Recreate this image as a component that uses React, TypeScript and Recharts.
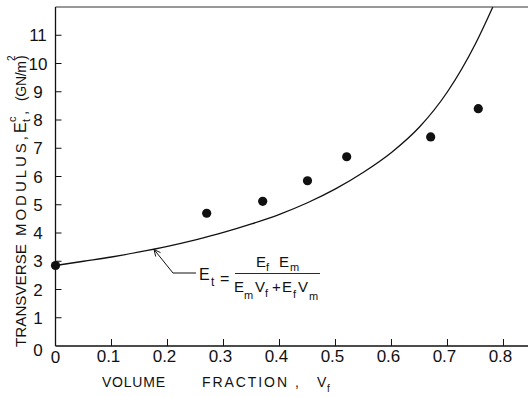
import React from "react";
import { ComposedChart, Line, Scatter, XAxis, YAxis } from "recharts";

// theoretical curve E_t = Ef Em / (Em Vf + Ef Vm)
const curveVf = [0, 0.05, 0.1, 0.15, 0.2, 0.25, 0.3, 0.35, 0.4, 0.45, 0.5, 0.55, 0.6, 0.65, 0.7, 0.75, 0.781];
const curveEt = [2.85, 3.0, 3.15, 3.33, 3.53, 3.76, 4.02, 4.32, 4.66, 5.07, 5.56, 6.15, 6.85, 7.75, 9.0, 10.7, 12.0];

// measured points
const pointVf = [0, 0.27, 0.37, 0.45, 0.52, 0.67, 0.755];
const pointEt = [2.85, 4.7, 5.12, 5.85, 6.7, 7.4, 8.4];

const xTicks = [0, 0.1, 0.2, 0.3, 0.4, 0.5, 0.6, 0.7, 0.8];
const yTicks = [0, 1, 2, 3, 4, 5, 6, 7, 8, 9, 10, 11];

const curve = curveVf.map((vf, i) => ({ vf, et: curveEt[i] }));
const points = pointVf.map((vf, i) => ({ vf, et: pointEt[i] }));

const X_MAX = 0.8438;
const FONT = "'Liberation Sans', Arial, sans-serif";
const INK = "#111";

const BottomTick = (props: any) => {
  const { x, y, payload } = props;
  const v = payload.value as number;
  return (
    <g>
      {v !== 0 && <line x1={x} x2={x} y1={y} y2={y - 7} stroke={INK} strokeWidth={1} />}
      <text
        x={v === 0 ? x : x - 3}
        y={v === 0 ? y + 17 : y + 16}
        textAnchor="middle"
        fontFamily={FONT}
        fontSize={17}
        fill={INK}
      >
        {v === 0 ? "0" : v.toFixed(1)}
      </text>
    </g>
  );
};

const TopTick = (props: any) => {
  const { x, y, payload } = props;
  if (payload.value === 0) return <g />;
  return <line x1={x} x2={x} y1={y} y2={y + 7} stroke={INK} strokeWidth={1} />;
};

const LeftTick = (props: any) => {
  const { x, y, payload } = props;
  const v = payload.value as number;
  return (
    <g>
      {v !== 0 && <line x1={x} x2={x + 6} y1={y} y2={y} stroke={INK} strokeWidth={1} />}
      <text
        x={38}
        y={v === 0 ? y + 10 : y + 6}
        textAnchor="middle"
        fontFamily={FONT}
        fontSize={17}
        fill={INK}
      >
        {v}
      </text>
    </g>
  );
};

const RightTick = (props: any) => {
  const { x, y, payload } = props;
  if (payload.value === 0) return <g />;
  return <line x1={x - 7} x2={x + 1} y1={y} y2={y} stroke={INK} strokeWidth={1.2} />;
};

const Dot = (props: any) => {
  const { cx, cy } = props;
  return <circle cx={cx} cy={cy} r={4.6} fill={INK} />;
};

const txt = { fontFamily: FONT, fill: INK } as const;

export default function App() {
  return (
    <div style={{ position: "absolute", left: 0, top: 0, width: 529, height: 397, background: "#fff" }}>
      <ComposedChart
        width={529}
        height={397}
        margin={{ top: 6, right: 0, bottom: 50, left: 54.5 }}
      >
        <XAxis
          xAxisId="b"
          dataKey="vf"
          type="number"
          domain={[0, X_MAX]}
          ticks={xTicks}
          interval={0}
          height={1}
          tickSize={0}
          tickMargin={0}
          tickLine={false}
          axisLine={{ stroke: INK, strokeWidth: 1.3 }}
          tick={BottomTick}
        />
        <XAxis
          xAxisId="t"
          orientation="top"
          dataKey="vf"
          type="number"
          domain={[0, X_MAX]}
          ticks={xTicks}
          interval={0}
          height={1}
          tickSize={0}
          tickMargin={0}
          tickLine={false}
          axisLine={{ stroke: "#333", strokeWidth: 1.1 }}
          tick={TopTick}
        />
        <YAxis
          yAxisId="l"
          type="number"
          domain={[0, 12]}
          ticks={yTicks}
          interval={0}
          width={1}
          tickSize={0}
          tickMargin={0}
          tickLine={false}
          axisLine={{ stroke: INK, strokeWidth: 1.3 }}
          tick={LeftTick}
        />
        <YAxis
          yAxisId="r"
          orientation="right"
          type="number"
          domain={[0, 12]}
          ticks={yTicks}
          interval={0}
          width={1}
          tickSize={0}
          tickMargin={0}
          tickLine={false}
          axisLine={false}
          tick={RightTick}
        />
        <Line
          xAxisId="b"
          yAxisId="l"
          data={curve}
          dataKey="et"
          type="monotone"
          stroke={INK}
          strokeWidth={1.3}
          dot={false}
          activeDot={false}
          isAnimationActive={false}
        />
        <Scatter
          xAxisId="b"
          yAxisId="l"
          data={points}
          dataKey="et"
          shape={Dot}
          isAnimationActive={false}
        />
      </ComposedChart>

      <svg
        width={529}
        height={397}
        style={{ position: "absolute", left: 0, top: 0, pointerEvents: "none" }}
      >
        {/* y axis title */}
        <text transform="rotate(-90)" fontSize={15} {...txt}>
          <tspan x={-347} y={26} textLength={103} lengthAdjust="spacingAndGlyphs">TRANSVERSE</tspan>
          <tspan x={-236} y={26} textLength={100} lengthAdjust="spacing">MODULUS,</tspan>
          <tspan x={-133} y={26} fontSize={16}>E</tspan>
          <tspan x={-122} y={30} fontSize={11}>t</tspan>
          <tspan x={-122} y={16} fontSize={11}>c</tspan>
          <tspan x={-115} y={27}>,</tspan>
          <tspan x={-101} y={26} fontSize={14} textLength={40} lengthAdjust="spacing">(GN/m</tspan>
          <tspan x={-61} y={15} fontSize={10}>2</tspan>
          <tspan x={-60} y={26} fontSize={14}>)</tspan>
        </text>

        {/* x axis title */}
        <text fontSize={14} {...txt}>
          <tspan x={102} y={387} textLength={63} lengthAdjust="spacing">VOLUME</tspan>
          <tspan x={202} y={387} textLength={85} lengthAdjust="spacing">FRACTION</tspan>
          <tspan x={295} y={387}>,</tspan>
          <tspan x={317} y={387}>V</tspan>
          <tspan x={327} y={392} fontSize={10}>f</tspan>
        </text>

        {/* leader to the curve */}
        <polyline points="154,249.5 173,273 196,273" fill="none" stroke={INK} strokeWidth={1} />
        <polyline points="155.7,256.5 154,249.5 160.5,252.6" fill="none" stroke={INK} strokeWidth={1} />

        {/* equation */}
        <text fontSize={16} {...txt}>
          <tspan x={199} y={280}>E</tspan>
          <tspan x={211} y={286} fontSize={12}>t</tspan>
          <tspan x={220} y={284}>=</tspan>
        </text>
        <line x1={235} x2={320} y1={273.5} y2={273.5} stroke={INK} strokeWidth={0.9} />
        <text fontSize={15} {...txt}>
          <tspan x={256} y={267}>E</tspan>
          <tspan x={266} y={271} fontSize={11}>f</tspan>
          <tspan x={279} y={267}>E</tspan>
          <tspan x={290} y={271} fontSize={11}>m</tspan>
        </text>
        <text fontSize={15} {...txt}>
          <tspan x={234} y={292}>E</tspan>
          <tspan x={244} y={299} fontSize={11}>m</tspan>
          <tspan x={255} y={292}>V</tspan>
          <tspan x={265} y={297} fontSize={11}>f</tspan>
          <tspan x={272} y={292}>+</tspan>
          <tspan x={282} y={292}>E</tspan>
          <tspan x={293} y={298} fontSize={11}>f</tspan>
          <tspan x={298} y={292}>V</tspan>
          <tspan x={309} y={300} fontSize={11}>m</tspan>
        </text>
      </svg>
    </div>
  );
}
